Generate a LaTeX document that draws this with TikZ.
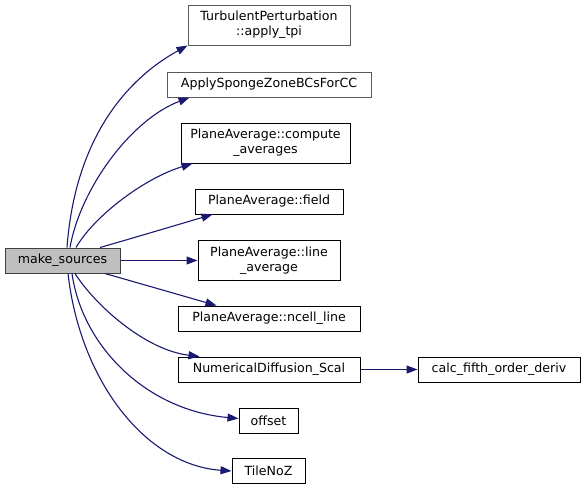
\documentclass[tikz,border=0pt]{standalone}
\usepackage{fontspec}
\setmainfont{DejaVu Sans}
\usetikzlibrary{arrows.meta}
\definecolor{edgeblue}{HTML}{191970}
\definecolor{rootfill}{HTML}{BFBFBF}
\definecolor{rootline}{HTML}{404040}
\definecolor{undocline}{HTML}{5A5A5A}

\begin{document}
\begin{tikzpicture}[x=1pt, y=-1pt]
    \tikzset{
        every node/.style={font=\fontsize{12.6}{15}\selectfont, align=center, inner sep=0pt},
        fn/.style={draw=black, line width=1pt, fill=white, minimum height=25pt},
        fntwo/.style={fn, minimum height=40pt},
        undoc/.style={draw=undocline},
        root/.style={fn, draw=rootline, fill=rootfill},
        call/.style={draw=edgeblue, line width=1.1pt, -{Triangle[length=11pt, width=8pt]}}
    }

    % 1. Frame of the picture
    \useasboundingbox (0, 0) rectangle (585, 490);

    % 2. Caller
    \node[root, minimum width=115pt] (ms) at (62.5, 260.5) {make\_sources};

    % 3. Callees
    \node[fntwo, undoc, minimum width=162pt] (tpi) at (269, 25) {TurbulentPerturbation\\::apply\_tpi};
    \node[fn, undoc, minimum width=204pt] (sponge) at (269, 84.5) {ApplySpongeZoneBCsForCC};
    \node[fntwo, minimum width=169pt] (compavg) at (265.5, 143) {PlaneAverage::compute\\\_averages};
    \node[fn, minimum width=148pt] (field) at (269, 201.5) {PlaneAverage::field};
    \node[fntwo, minimum width=142pt] (lineavg) at (269, 260.5) {PlaneAverage::line\\\_average};
    \node[fn, minimum width=182pt] (ncell) at (269, 318.5) {PlaneAverage::ncell\_line};
    \node[fn, minimum width=182pt] (numdiff) at (269, 369.5) {NumericalDiffusion\_Scal};
    \node[fn, minimum width=59pt] (offset) at (268.5, 420.5) {offset};
    \node[fn, minimum width=73pt] (tilenoz) at (268.5, 471) {TileNoZ};
    \node[fn, minimum width=162pt] (fifth) at (499, 369.5) {calc\_fifth\_order\_deriv};

    % 4. Calls going up
    \draw[call] ([xshift=4.5pt]ms.north) .. controls (75, 140) and (125, 80) .. (tpi.south west);
    \draw[call] ([xshift=7.5pt]ms.north) .. controls (80, 190) and (130, 120) .. ([xshift=23pt]sponge.south west);
    \draw[call] ([xshift=13.5pt]ms.north) .. controls (95, 215) and (145, 178) .. ([xshift=12pt]compavg.south west);
    \draw[call] ([xshift=37.5pt]ms.north) .. controls (140, 236) and (180, 224) .. ([xshift=18pt]field.south west);

    % 5. Straight calls
    \draw[call] (ms.east) -- (lineavg.west);
    \draw[call] ([xshift=42.5pt]ms.south) -- ([xshift=39pt]ncell.north west);
    \draw[call] (numdiff.east) -- (fifth.west);

    % 6. Calls going down
    \draw[call] ([xshift=12.5pt]ms.south) .. controls (95, 305) and (145, 350) .. ([xshift=22pt]numdiff.north west);
    \draw[call] ([xshift=9.5pt]ms.south) .. controls (82, 345) and (145, 410) .. ([yshift=2pt]offset.west);
    \draw[call] ([xshift=5.5pt]ms.south) .. controls (80, 380) and (145, 465) .. (tilenoz.west);

\end{tikzpicture}
\end{document}
